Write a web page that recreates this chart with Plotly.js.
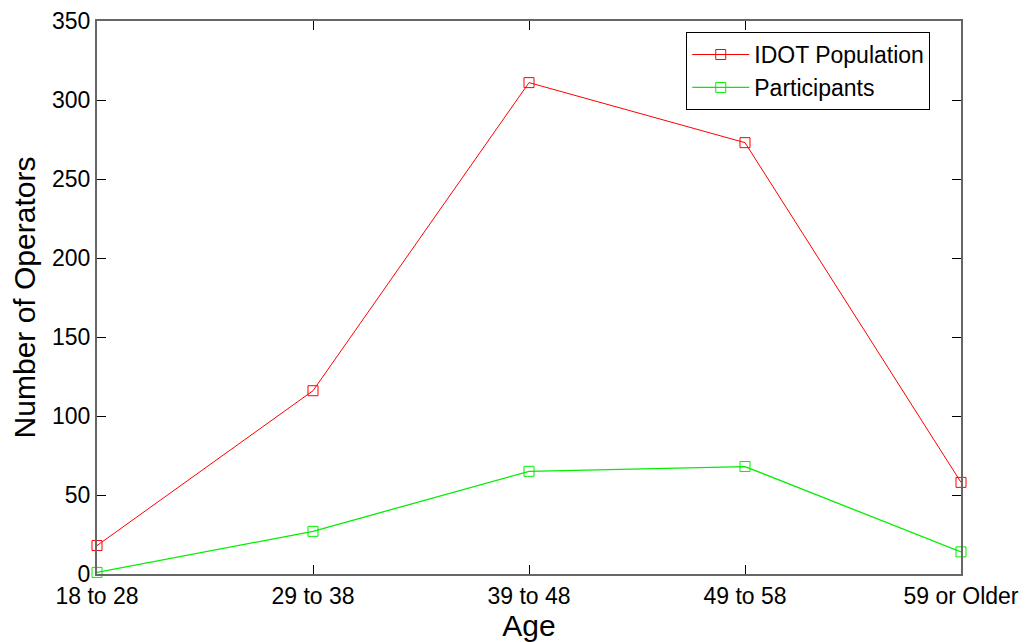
<!DOCTYPE html>
<html>
<head>
<meta charset="utf-8">
<script src="https://cdn.plot.ly/plotly-3.0.1.min.js"></script>
<style>html,body{margin:0;padding:0;background:#fff;}#chart{width:1027px;height:642px;}</style>
</head>
<body>
<div id="chart"></div>
<script>
const categories = ["18 to 28", "29 to 38", "39 to 48", "49 to 58", "59 or Older"];
const idotPopulation = [18, 116, 311, 273, 58];
const participants = [1, 27, 65, 68, 14];
const yTicks = [0, 50, 100, 150, 200, 250, 300, 350];

const xIdx = categories.map((c, i) => i);
const font = "Liberation Sans, Arial, sans-serif";

const traces = [
  {
    x: xIdx, y: idotPopulation, name: "IDOT Population", type: "scatter", mode: "lines+markers",
    cliponaxis: false,
    line: {color: "#ff0000", width: 1},
    marker: {symbol: "square-open", size: 10, color: "#ff0000", line: {width: 1}}
  },
  {
    x: xIdx, y: participants, name: "Participants", type: "scatter", mode: "lines+markers",
    cliponaxis: false,
    line: {color: "#00ee00", width: 1.3},
    marker: {symbol: "square-open", size: 10, color: "#00ee00", line: {width: 1}}
  }
];

const layout = {
  width: 1027, height: 642,
  margin: {l: 97, r: 66, t: 21, b: 68},
  paper_bgcolor: "#ffffff", plot_bgcolor: "#ffffff",
  font: {family: font, size: 23, color: "#000"},
  showlegend: true,
  legend: {
    x: 0.682, y: 0.98, xanchor: "left", yanchor: "top",
    bordercolor: "#000", borderwidth: 1, bgcolor: "#fff",
    font: {family: font, size: 23, color: "#000"},
    itemwidth: 57, tracegroupgap: 0
  },
  xaxis: {
    range: [0, 4], tickmode: "array", tickvals: xIdx, ticktext: categories,
    showgrid: false, zeroline: false,
    showline: true, linecolor: "#666", linewidth: 2, mirror: "ticks",
    ticks: "inside", ticklen: 9, tickcolor: "#000", tickwidth: 1,
    tickfont: {family: font, size: 23, color: "#000"},
    title: {text: "Age", font: {family: font, size: 30, color: "#000"}, standoff: 2}
  },
  yaxis: {
    range: [0, 350], tickmode: "array", tickvals: yTicks,
    showgrid: false, zeroline: false,
    showline: true, linecolor: "#666", linewidth: 2, mirror: "ticks",
    ticks: "inside", ticklen: 9, tickcolor: "#000", tickwidth: 1,
    tickfont: {family: font, size: 23, color: "#000"},
    title: {text: "Number of Operators", font: {family: font, size: 30, color: "#000"}, standoff: 8}
  }
};

Plotly.newPlot("chart", traces, layout, {displayModeBar: false, staticPlot: true});
</script>
</body>
</html>
